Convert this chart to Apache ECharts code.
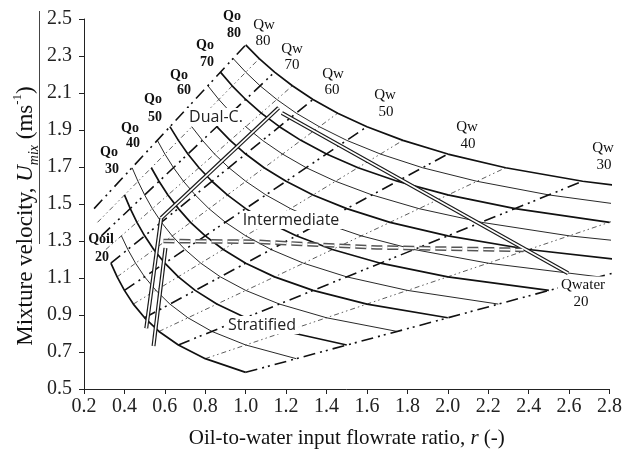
<!DOCTYPE html>
<html>
<head>
<meta charset="utf-8">
<script src="https://cdn.jsdelivr.net/npm/echarts@6/dist/echarts.min.js"></script>
<style>
  html, body { margin: 0; padding: 0; background: #fff; }
  #chart { width: 625px; height: 454px; }
</style>
</head>
<body>
<div id="chart"></div>
<script>
// Axis tick values
const xTicks = [0.2, 0.4, 0.6, 0.8, 1.0, 1.2, 1.4, 1.6, 1.8, 2.0, 2.2, 2.4, 2.6, 2.8];
const yTicks = [0.5, 0.7, 0.9, 1.1, 1.3, 1.5, 1.7, 1.9, 2.1, 2.3, 2.5];

// Constant oil flowrate curves, points as [r, Umix]
const qo20 = [[0.333,1.180],[0.364,1.106],[0.400,1.033],[0.444,0.959],[0.500,0.885],[0.571,0.811],[0.667,0.738],[0.800,0.664],[1.000,0.590]];
const qo25 = [[0.385,1.328],[0.417,1.254],[0.455,1.180],[0.500,1.106],[0.556,1.033],[0.625,0.959],[0.714,0.885],[0.833,0.811],[1.000,0.738],[1.250,0.664]];
const qo30 = [[0.400,1.549],[0.429,1.475],[0.462,1.401],[0.500,1.328],[0.545,1.254],[0.600,1.180],[0.667,1.106],[0.750,1.033],[0.857,0.959],[1.000,0.885],[1.200,0.811],[1.500,0.738]];
const qo35 = [[0.438,1.696],[0.467,1.623],[0.500,1.549],[0.538,1.475],[0.583,1.401],[0.636,1.328],[0.700,1.254],[0.778,1.180],[0.875,1.106],[1.000,1.033],[1.167,0.959],[1.400,0.885],[1.750,0.811]];
const qo40 = [[0.533,1.696],[0.571,1.623],[0.615,1.549],[0.667,1.475],[0.727,1.401],[0.800,1.328],[0.889,1.254],[1.000,1.180],[1.143,1.106],[1.333,1.033],[1.600,0.959],[2.000,0.885]];
const qo45 = [[0.563,1.844],[0.600,1.770],[0.643,1.696],[0.692,1.623],[0.750,1.549],[0.818,1.475],[0.900,1.401],[1.000,1.328],[1.125,1.254],[1.286,1.180],[1.500,1.106],[1.800,1.033],[2.250,0.959]];
const qo50 = [[0.625,1.918],[0.667,1.844],[0.714,1.770],[0.769,1.696],[0.833,1.623],[0.909,1.549],[1.000,1.475],[1.111,1.401],[1.250,1.328],[1.429,1.254],[1.667,1.180],[2.000,1.106],[2.500,1.033]];
const qo55 = [[0.733,1.918],[0.786,1.844],[0.846,1.770],[0.917,1.696],[1.000,1.623],[1.100,1.549],[1.222,1.475],[1.375,1.401],[1.571,1.328],[1.833,1.254],[2.200,1.180],[2.750,1.106]];
const qo60 = [[0.857,1.918],[0.923,1.844],[1.000,1.770],[1.091,1.696],[1.200,1.623],[1.333,1.549],[1.500,1.475],[1.714,1.401],[2.000,1.328],[2.400,1.254],[3.000,1.180]];
const qo65 = [[0.813,2.139],[0.867,2.065],[0.929,1.991],[1.000,1.918],[1.083,1.844],[1.182,1.770],[1.300,1.696],[1.444,1.623],[1.625,1.549],[1.857,1.475],[2.167,1.401],[2.600,1.328],[3.250,1.254]];
const qo70 = [[0.875,2.213],[0.933,2.139],[1.000,2.065],[1.077,1.991],[1.167,1.918],[1.273,1.844],[1.400,1.770],[1.556,1.696],[1.750,1.623],[2.000,1.549],[2.333,1.475],[2.800,1.401]];
const qo75 = [[0.938,2.286],[1.000,2.213],[1.071,2.139],[1.154,2.065],[1.250,1.991],[1.364,1.918],[1.500,1.844],[1.667,1.770],[1.875,1.696],[2.143,1.623],[2.500,1.549],[3.000,1.475]];
const qo80 = [[1.000,2.360],[1.067,2.286],[1.143,2.213],[1.231,2.139],[1.333,2.065],[1.455,1.991],[1.600,1.918],[1.778,1.844],[2.000,1.770],[2.286,1.696],[2.667,1.623],[3.200,1.549]];

// Constant water flowrate lines (end points, Qo = 20 to Qo = 80)
const qw20 = [[1.000,0.590],[4.000,1.475]];
const qw25 = [[0.800,0.664],[3.200,1.549]];
const qw30 = [[0.667,0.738],[2.667,1.623]];
const qw35 = [[0.571,0.811],[2.286,1.696]];
const qw40 = [[0.500,0.885],[2.000,1.770]];
const qw45 = [[0.444,0.959],[1.778,1.844]];
const qw50 = [[0.400,1.033],[1.600,1.918]];
const qw55 = [[0.364,1.106],[1.455,1.991]];
const qw60 = [[0.333,1.180],[1.333,2.065]];
const qw65 = [[0.308,1.254],[1.231,2.139]];
const qw70 = [[0.286,1.328],[1.143,2.213]];
const qw75 = [[0.267,1.401],[1.067,2.286]];
const qw80 = [[0.250,1.475],[1.000,2.360]];

// Flow-regime boundaries
const boundaryLeftA = [[0.582,1.424],[0.508,0.828]];
const boundaryLeftB = [[0.603,1.262],[0.544,0.733]];
const boundaryDual  = [[0.582,1.424],[1.163,2.020]];
const boundaryUpper = [[1.179,1.992],[2.595,1.126]];
const boundaryStrat = [[0.593,1.300],[1.050,1.296],[1.650,1.265],[2.374,1.252]];

const qoCurves = [[20,qo20],[25,qo25],[30,qo30],[35,qo35],[40,qo40],[45,qo45],[50,qo50],
                  [55,qo55],[60,qo60],[65,qo65],[70,qo70],[75,qo75],[80,qo80]];
const qwLines = [[20,qw20],[25,qw25],[30,qw30],[35,qw35],[40,qw40],[45,qw45],[50,qw50],
                 [55,qw55],[60,qw60],[65,qw65],[70,qw70],[75,qw75],[80,qw80]];

const SERIF = '"Liberation Serif", "Times New Roman", serif';
const SANS = '"Open Sans", "Noto Sans", sans-serif';

const series = [];
function plain(data, style, z) {
  series.push({
    type: 'line', data: data, showSymbol: false, silent: true,
    animation: false, z: z, lineStyle: style
  });
}

qwLines.forEach(([q, pts]) => {
  const major = q % 10 === 0;
  plain(pts, major
    ? { color: '#111', width: 1.6, type: [12, 5, 2, 4, 2, 5] }
    : { color: '#333', width: 0.8, type: [5, 3, 1.5, 3, 1.5, 3] }, 2);
});
qoCurves.forEach(([q, pts]) => {
  const major = q % 10 === 0;
  plain(pts, { color: '#111', width: major ? 1.7 : 0.9 }, 3);
});

// Double lines: a dark wide stroke with a white core
[boundaryLeftA, boundaryLeftB, boundaryDual, boundaryUpper].forEach(pts => {
  plain(pts, { color: '#1a1a1a', width: 4.0, cap: 'butt' }, 5);
  plain(pts, { color: '#ffffff', width: 1.6, cap: 'butt' }, 6);
});
plain(boundaryStrat, { color: '#555', width: 4.6, type: [11, 5], cap: 'butt' }, 5);
plain(boundaryStrat, { color: '#ffffff', width: 1.6, type: [11, 5], cap: 'butt' }, 6);

// Annotation text
function txt(x, y, text, font, fill, boxed) {
  const style = { text: text, font: font, fill: fill || '#111', align: 'center', verticalAlign: 'middle' };
  if (boxed) { style.backgroundColor = '#fff'; style.padding = [1, 3]; }
  return { type: 'text', x: x, y: y, z: 10, silent: true, style: style };
}
const boldF = 'bold 14px ' + SERIF;
const regF = '15px ' + SERIF;
const regionF = '16px ' + SANS;

const yTitleRich = {
  t: { fontFamily: SERIF, fontSize: 23, fill: '#111', lineHeight: 30 },
  i: { fontFamily: SERIF, fontSize: 23, fontStyle: 'italic', fill: '#111', lineHeight: 30 },
  s: { fontFamily: SERIF, fontSize: 14, fontStyle: 'italic', fill: '#111', lineHeight: 20, verticalAlign: 'bottom' },
  p: { fontFamily: SERIF, fontSize: 13, fill: '#111', lineHeight: 17, verticalAlign: 'top' }
};

const graphic = [
  txt(232, 16, 'Qo', boldF), txt(234, 33, '80', boldF),
  txt(205, 45, 'Qo', boldF), txt(207, 62, '70', boldF),
  txt(179, 75, 'Qo', boldF), txt(184, 90, '60', boldF),
  txt(153, 99, 'Qo', boldF), txt(155, 117, '50', boldF),
  txt(130, 128, 'Qo', boldF), txt(133, 143, '40', boldF),
  txt(109, 152, 'Qo', boldF), txt(112, 169, '30', boldF),
  txt(101, 239, 'Qoil', boldF), txt(102, 257, '20', boldF),
  txt(264, 25, 'Qw', regF), txt(263, 41, '80', regF),
  txt(292, 49, 'Qw', regF), txt(292, 65, '70', regF),
  txt(333, 74, 'Qw', regF), txt(332, 90, '60', regF),
  txt(385, 95, 'Qw', regF), txt(386, 112, '50', regF),
  txt(467, 127, 'Qw', regF), txt(468, 144, '40', regF),
  txt(603, 148, 'Qw', regF), txt(604, 165, '30', regF),
  txt(583, 285, 'Qwater', regF, '#111', true), txt(581, 302, '20', regF),
  txt(216, 117, 'Dual-C.', regionF, '#222', true),
  txt(291, 220, 'Intermediate', regionF, '#222', true),
  txt(262, 325, 'Stratified', regionF, '#222', true),
  // Y-axis title, rotated to read upwards
  { type: 'text', x: 26, y: 216, rotation: Math.PI / 2, z: 10, silent: true,
    style: { text: '{t|Mixture velocity, }{i|U}{s|mix}{t| (ms}{p|-1}{t|)}',
      rich: yTitleRich, align: 'center', verticalAlign: 'middle' } },
  { type: 'line', silent: true, z: 10,
    shape: { x1: 39.5, y1: 11, x2: 39.5, y2: 244 },
    style: { stroke: '#444', lineWidth: 1 } }
];

const xTitleRich = {
  t: { fontFamily: SERIF, fontSize: 21, color: '#111', lineHeight: 28 },
  i: { fontFamily: SERIF, fontSize: 21, fontStyle: 'italic', color: '#111', lineHeight: 28 }
};

const chart = echarts.init(document.getElementById('chart'), null, { renderer: 'canvas' });
chart.setOption({
  animation: false,
  backgroundColor: '#fff',
  grid: { left: 84, right: 12, top: 19, bottom: 65, containLabel: false },
  xAxis: {
    type: 'value', min: 0.2, max: 2.8,
    splitLine: { show: false },
    axisLine: { lineStyle: { color: '#222', width: 1 } },
    axisTick: { customValues: xTicks, length: 5, lineStyle: { color: '#222' } },
    axisLabel: { customValues: xTicks, margin: 8, fontFamily: SERIF, fontSize: 20, color: '#222',
      formatter: v => v.toFixed(1) },
    name: '{t|Oil-to-water input flowrate ratio, }{i|r}{t| (-)}',
    nameLocation: 'middle', nameGap: 35,
    nameTextStyle: { rich: xTitleRich }
  },
  yAxis: {
    type: 'value', min: 0.5, max: 2.5,
    splitLine: { show: false },
    axisLine: { show: true, lineStyle: { color: '#222', width: 1 } },
    axisTick: { show: true, customValues: yTicks, length: 5, lineStyle: { color: '#222' } },
    axisLabel: { customValues: yTicks, margin: 12, fontFamily: SERIF, fontSize: 20, color: '#222',
      formatter: v => v.toFixed(1) }
  },
  series: series,
  graphic: graphic
});
</script>
</body>
</html>
